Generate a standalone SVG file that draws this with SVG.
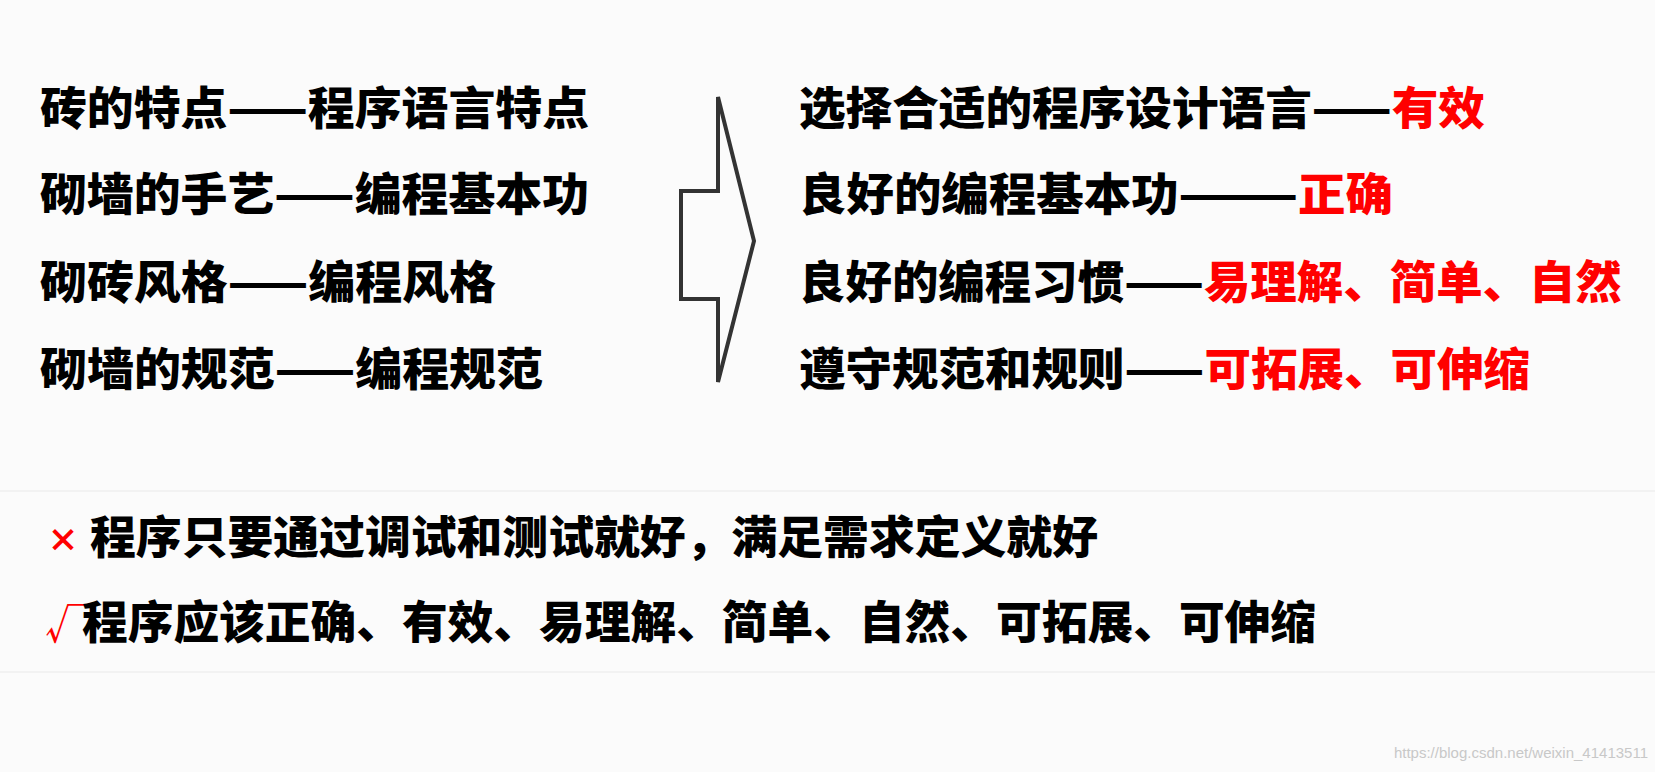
<svg xmlns="http://www.w3.org/2000/svg" width="1655" height="772" viewBox="0 0 1655 772">
<style>
text{font-family:"Noto Sans CJK SC","Noto Sans",sans-serif;font-weight:900;font-size:45px;fill:#000}
.r{fill:#ff0000}
.g{stroke:#efefef;stroke-width:1.5}
</style>
<rect width="1655" height="772" fill="#fbfbfb"/>
<g id="grid">
<line class="g" x1="0" y1="491" x2="1655" y2="491"/>
<line class="g" x1="0" y1="672" x2="1655" y2="672"/>
</g>
<g id="left">
<text x="40" y="125" textLength="549" lengthAdjust="spacingAndGlyphs">砖的特点——程序语言特点</text>
<text x="40" y="211" textLength="549" lengthAdjust="spacingAndGlyphs">砌墙的手艺——编程基本功</text>
<text x="40" y="299" textLength="456" lengthAdjust="spacingAndGlyphs">砌砖风格——编程风格</text>
<text x="40" y="386" textLength="503" lengthAdjust="spacingAndGlyphs">砌墙的规范——编程规范</text>
</g>
<g id="arrow">
<path d="M718,97 L754,241 L718,382 L718,299 L681,299 L681,191 L718,191 Z" fill="none" stroke="#333" stroke-width="4" stroke-linejoin="miter"/>
</g>
<g id="right">
<text x="799" y="125" textLength="686" lengthAdjust="spacingAndGlyphs">选择合适的程序设计语言——<tspan class="r">有效</tspan></text>
<text x="799" y="211" textLength="594" lengthAdjust="spacingAndGlyphs">良好的编程基本功———<tspan class="r">正确</tspan></text>
<text x="799" y="299" textLength="823" lengthAdjust="spacingAndGlyphs">良好的编程习惯——<tspan class="r">易理解、简单、自然</tspan></text>
<text x="799" y="386" textLength="731" lengthAdjust="spacingAndGlyphs">遵守规范和规则——<tspan class="r">可拓展、可伸缩</tspan></text>
</g>
<g id="bottom">
<text x="47" y="552" class="r" style="font-size:32px">×</text>
<text x="90" y="554" textLength="1008" lengthAdjust="spacingAndGlyphs">程序只要通过调试和测试就好，满足需求定义就好</text>
<text x="45" y="639" class="r" style="font-size:40px;font-weight:400">√</text>
<text x="82" y="639" textLength="1234" lengthAdjust="spacingAndGlyphs">程序应该正确、有效、易理解、简单、自然、可拓展、可伸缩</text>
</g>
<text x="1648" y="758" text-anchor="end" style="font-family:'Liberation Sans',sans-serif;font-weight:400;font-size:15px;fill:#c8c8c8">https://blog.csdn.net/weixin_41413511</text>
</svg>
